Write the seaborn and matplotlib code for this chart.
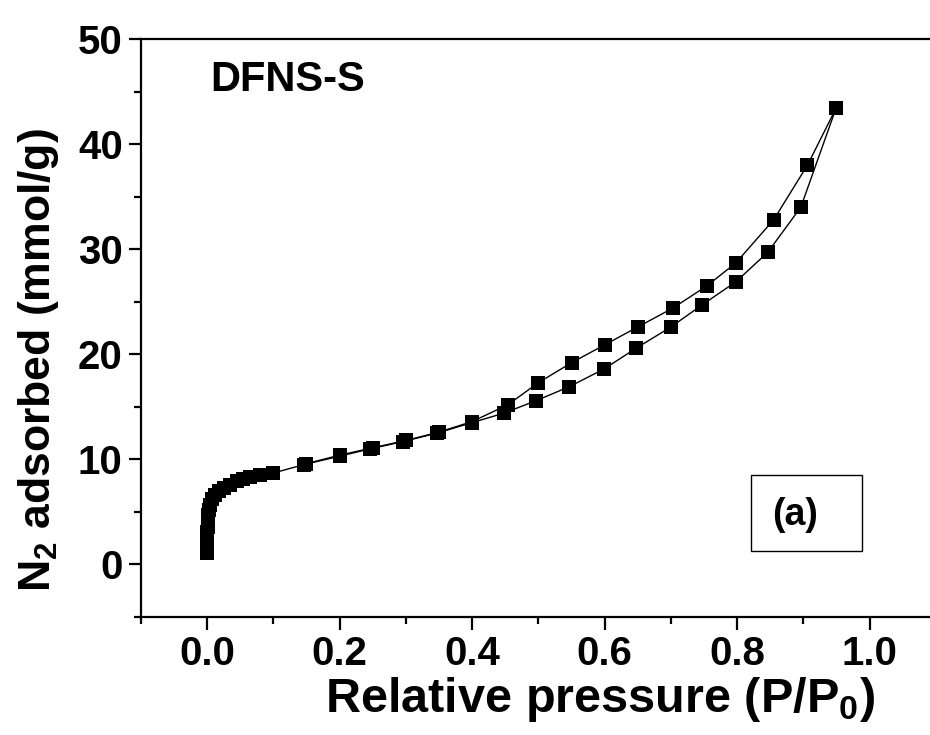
import matplotlib
matplotlib.use("Agg")
import matplotlib.pyplot as plt
import seaborn as sns
import pandas as pd
from matplotlib.patches import Rectangle
from matplotlib.ticker import MultipleLocator

# ---- data ----
ads_x = [0.0001, 0.0002, 0.0004, 0.0006, 0.0008, 0.001, 0.002, 0.003, 0.005,
         0.008, 0.012, 0.018, 0.025, 0.035, 0.045, 0.055, 0.065, 0.08, 0.1,
         0.146, 0.2, 0.246, 0.296, 0.347, 0.4, 0.448, 0.497, 0.546, 0.599,
         0.648, 0.70, 0.747, 0.798, 0.846, 0.896, 0.949]
ads_y = [1.1, 1.8, 2.5, 3.1, 3.6, 4.1, 4.7, 5.2, 5.7,
         6.2, 6.6, 7.0, 7.3, 7.6, 7.9, 8.1, 8.3, 8.5, 8.7,
         9.5, 10.3, 11.0, 11.7, 12.5, 13.5, 14.4, 15.6, 16.9, 18.6,
         20.6, 22.6, 24.7, 26.9, 29.7, 34.0, 43.4]
des_x = [0.949, 0.906, 0.855, 0.798, 0.754, 0.703, 0.65, 0.60, 0.55, 0.50,
         0.454, 0.40, 0.35, 0.30, 0.25, 0.20, 0.15]
des_y = [43.4, 38.0, 32.8, 28.7, 26.5, 24.4, 22.6, 20.9, 19.2, 17.3,
         15.2, 13.6, 12.6, 11.8, 11.1, 10.4, 9.6]

x_ticks = [0.0, 0.2, 0.4, 0.6, 0.8, 1.0]
y_ticks = [0, 10, 20, 30, 40, 50]
sample_label = "DFNS-S"
panel_label = "(a)"

ads = pd.DataFrame({"p": ads_x, "n": ads_y})
des = pd.DataFrame({"p": des_x, "n": des_y})

sns.set_style("ticks")
plt.rcParams["font.family"] = ["Liberation Sans", "DejaVu Sans"]
plt.rcParams["font.weight"] = "bold"
plt.rcParams["text.color"] = "black"
plt.rcParams["axes.labelcolor"] = "black"
plt.rcParams["xtick.color"] = "black"
plt.rcParams["ytick.color"] = "black"
plt.rcParams["mathtext.fontset"] = "custom"
plt.rcParams["mathtext.rm"] = "Liberation Sans:bold"
plt.rcParams["mathtext.bf"] = "Liberation Sans:bold"
plt.rcParams["mathtext.it"] = "Liberation Sans:bold"

fig = plt.figure(figsize=(9.30, 7.35), dpi=100)
ax = fig.add_axes([0.1513, 0.1605, 0.8552, 0.7864])

for df in (ads, des):
    sns.lineplot(data=df, x="p", y="n", ax=ax, sort=False, estimator=None,
                 color="black", linewidth=1.0, marker="s", markersize=9.5,
                 markeredgewidth=0, markerfacecolor="black")

ax.set_xlim(-0.1, 1.1)
ax.set_ylim(-5, 50)
ax.set_xticks(x_ticks)
ax.set_yticks(y_ticks)
ax.set_xticklabels([f"{v:.1f}" for v in x_ticks])
ax.set_yticklabels([str(v) for v in y_ticks])
ax.xaxis.set_minor_locator(MultipleLocator(0.1))
ax.yaxis.set_minor_locator(MultipleLocator(5))

for s in ("left", "bottom", "top"):
    ax.spines[s].set_linewidth(1.6)
    ax.spines[s].set_color("black")
ax.spines["right"].set_visible(False)

ax.tick_params(axis="both", which="major", direction="out", length=9, width=1.6,
               labelsize=29, pad=4, colors="black", top=False, right=False)
ax.tick_params(axis="both", which="minor", direction="out", length=5, width=1.6,
               top=False, right=False)
for lab in ax.get_xticklabels() + ax.get_yticklabels():
    lab.set_fontweight("bold")

ax.set_xlabel(r"Relative pressure (P/P$_{\mathrm{0}}$)", fontsize=35,
              fontweight="bold", va="center")
ax.set_ylabel(r"N$_{\mathrm{2}}$ adsorbed (mmol/g)", fontsize=32,
              fontweight="bold", va="center")
ax.xaxis.set_label_coords(0.578, -0.142)
ax.yaxis.set_label_coords(-0.129, 0.445)

ax.text(0.087, 0.929, sample_label, transform=ax.transAxes, fontsize=30,
        fontweight="bold", ha="left", va="center")
ax.add_patch(Rectangle((0.7674, 0.1142), 0.1396, 0.1315, transform=ax.transAxes,
                       fill=False, edgecolor="black", linewidth=1.0))
ax.text(0.8227, 0.1765, panel_label, transform=ax.transAxes, fontsize=27,
        fontweight="bold", ha="center", va="center")

fig.savefig("out.png", dpi=100)
